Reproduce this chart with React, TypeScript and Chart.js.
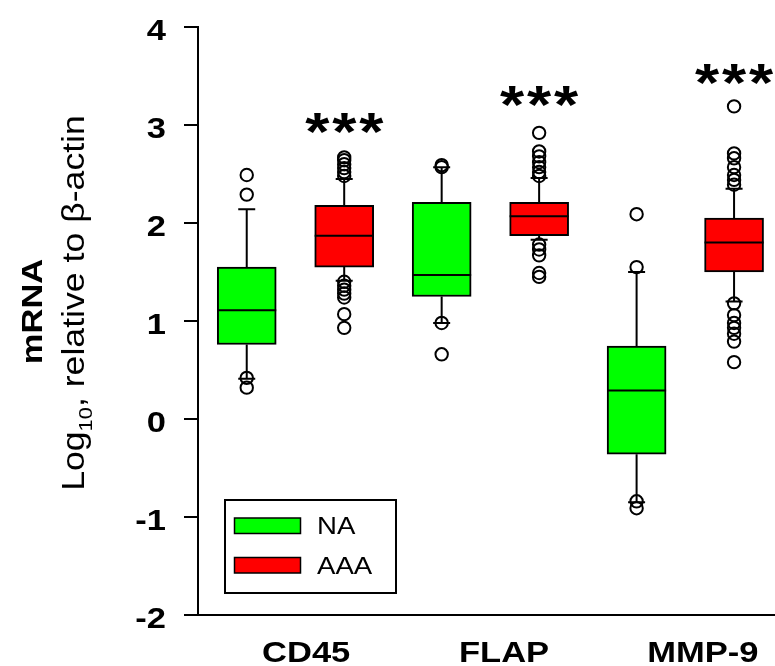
import React, { useEffect, useRef } from "react";
import { Chart, registerables } from "chart.js";

Chart.register(...registerables);

// ---------- data ----------
const categories = ["CD45", "FLAP", "MMP-9"];
const seriesNames = ["NA", "AAA"];
const seriesColors = ["#00FF00", "#FF0000"];

const naWhiskerLow = [0.41, 0.98, -0.85];
const naQ1 = [0.76, 1.25, -0.36];
const naMedian = [1.11, 1.47, 0.29];
const naQ3 = [1.55, 2.21, 0.745];
const naWhiskerHigh = [2.14, 2.57, 1.5];
const naOutliers = [
  [2.49, 2.29, 0.42, 0.32],
  [2.59, 2.57, 0.98, 0.66],
  [2.09, 1.55, -0.84, -0.91],
];

const aaaWhiskerLow = [1.41, 1.83, 1.2];
const aaaQ1 = [1.55, 1.87, 1.5];
const aaaMedian = [1.87, 2.07, 1.8];
const aaaQ3 = [2.18, 2.21, 2.05];
const aaaWhiskerHigh = [2.45, 2.46, 2.35];
const aaaOutliers = [
  [2.67, 2.64, 2.6, 2.56, 2.52, 2.48, 1.4, 1.36, 1.32, 1.28, 1.24, 1.07, 0.93],
  [2.92, 2.73, 2.68, 2.62, 2.57, 2.52, 2.48, 1.78, 1.73, 1.67, 1.49, 1.45],
  [3.19, 2.71, 2.66, 2.57, 2.49, 2.44, 2.39, 1.18, 1.06, 0.98, 0.93, 0.87, 0.79, 0.58],
];

const significance = ["***", "***", "***"];
const significanceLevel = [3.02, 3.29, 3.52];

const yTicks = [-2, -1, 0, 1, 2, 3, 4];
const xLabelPositions = [1.61, 3.64, 5.68];

const yTitleMain = "mRNA";
const yTitleLog = "Log";
const yTitleSub = "10";
const yTitleRest = ", relative to \u03B2-actin";

// ---------- helpers ----------
const FAMILY = '"Liberation Sans", Arial, Helvetica, sans-serif';
const STRETCH = 1.15;

const naPos = (i: number) => 2 * i + 1;
const aaaPos = (i: number) => 2 * i + 2;

function stretchedText(
  ctx: CanvasRenderingContext2D,
  text: string,
  x: number,
  y: number,
  font: string,
  align: CanvasTextAlign,
  rotate = 0
) {
  ctx.save();
  ctx.translate(x, y);
  if (rotate) ctx.rotate(rotate);
  ctx.scale(STRETCH, 1);
  ctx.font = font;
  ctx.textAlign = align;
  ctx.textBaseline = "alphabetic";
  ctx.fillStyle = "#000";
  ctx.fillText(text, 0, 0);
  ctx.restore();
}

const boxPlugin = {
  id: "boxWhiskers",
  afterDatasetsDraw(chart: any) {
    const ctx: CanvasRenderingContext2D = chart.ctx;
    const ys = chart.scales.y;
    const groups = [
      { meta: chart.getDatasetMeta(0), lo: naWhiskerLow, q1: naQ1, med: naMedian, q3: naQ3, hi: naWhiskerHigh },
      { meta: chart.getDatasetMeta(1), lo: aaaWhiskerLow, q1: aaaQ1, med: aaaMedian, q3: aaaQ3, hi: aaaWhiskerHigh },
    ];
    ctx.save();
    ctx.strokeStyle = "#000";
    ctx.lineWidth = 2;
    ctx.lineCap = "butt";
    groups.forEach((g) => {
      g.meta.data.forEach((el: any, i: number) => {
        const x = el.x;
        const half = el.width / 2;
        const cap = 8.5;
        const pHi = ys.getPixelForValue(g.hi[i]);
        const pQ3 = ys.getPixelForValue(g.q3[i]);
        const pQ1 = ys.getPixelForValue(g.q1[i]);
        const pLo = ys.getPixelForValue(g.lo[i]);
        const pMed = ys.getPixelForValue(g.med[i]);
        ctx.beginPath();
        ctx.moveTo(x, pQ3);
        ctx.lineTo(x, pHi);
        ctx.moveTo(x - cap, pHi);
        ctx.lineTo(x + cap, pHi);
        ctx.moveTo(x, pQ1);
        ctx.lineTo(x, pLo);
        ctx.moveTo(x - cap, pLo);
        ctx.lineTo(x + cap, pLo);
        ctx.moveTo(x - half, pMed);
        ctx.lineTo(x + half, pMed);
        ctx.stroke();
      });
    });
    ctx.restore();
  },
};

const textPlugin = {
  id: "textLayer",
  afterDraw(chart: any) {
    const ctx: CanvasRenderingContext2D = chart.ctx;
    const xs = chart.scales.x;
    const ys = chart.scales.y;
    const area = chart.chartArea;

    // y tick labels
    ys.ticks.forEach((t: any) => {
      const py = ys.getPixelForValue(t.value);
      stretchedText(ctx, String(t.value), area.left - 32, py + 12.8, `bold 30px ${FAMILY}`, "right");
    });

    // x category labels
    categories.forEach((c, i) => {
      const px = xs.getPixelForValue(xLabelPositions[i]);
      stretchedText(ctx, c, px, area.bottom + 47, `bold 30px ${FAMILY}`, "center");
    });

    // significance asterisks
    ctx.save();
    ctx.font = `bold 100px ${FAMILY}`;
    const m = ctx.measureText("*");
    const h100 = m.actualBoundingBoxAscent + m.actualBoundingBoxDescent;
    const size = (100 * 20.5) / (h100 || 36);
    ctx.restore();
    significance.forEach((s, i) => {
      const cx = xs.getPixelForValue(aaaPos(i));
      const cy = ys.getPixelForValue(significanceLevel[i]);
      ctx.save();
      ctx.font = `bold ${size}px ${FAMILY}`;
      const mm = ctx.measureText("*");
      const base = cy + (mm.actualBoundingBoxAscent - mm.actualBoundingBoxDescent) / 2;
      ctx.restore();
      const chars = s.split("");
      chars.forEach((ch, k) => {
        const off = (k - (chars.length - 1) / 2) * 27;
        stretchedText(ctx, ch, cx + off, base, `bold ${size}px ${FAMILY}`, "center");
      });
    });

    // y title
    stretchedText(ctx, yTitleMain, 42, 311.5, `bold 30px ${FAMILY}`, "center", -Math.PI / 2);
    ctx.save();
    ctx.translate(84, 303);
    ctx.rotate(-Math.PI / 2);
    ctx.scale(STRETCH, 1);
    ctx.fillStyle = "#000";
    ctx.textBaseline = "alphabetic";
    ctx.textAlign = "left";
    const fMain = `31px ${FAMILY}`;
    const fSub = `19px ${FAMILY}`;
    ctx.font = fMain;
    const w1 = ctx.measureText(yTitleLog).width;
    const w3 = ctx.measureText(yTitleRest).width;
    ctx.font = fSub;
    const w2 = ctx.measureText(yTitleSub).width;
    let x0 = -(w1 + w2 + w3) / 2;
    ctx.font = fMain;
    ctx.fillText(yTitleLog, x0, 0);
    x0 += w1;
    ctx.font = fSub;
    ctx.fillText(yTitleSub, x0, 8);
    x0 += w2;
    ctx.font = fMain;
    ctx.fillText(yTitleRest, x0, 0);
    ctx.restore();

    // legend
    ctx.save();
    ctx.strokeStyle = "#000";
    ctx.lineWidth = 2;
    ctx.strokeRect(225, 500, 171, 93);
    const rows = [525.5, 565];
    seriesNames.forEach((name, k) => {
      const ds = chart.data.datasets[k];
      const cy = rows[k];
      ctx.fillStyle = ds.backgroundColor;
      ctx.fillRect(234.5, cy - 7.5, 66, 15.5);
      ctx.lineWidth = 1.5;
      ctx.strokeRect(234.5, cy - 7.5, 66, 15.5);
      stretchedText(ctx, ds.label, 317, cy + 8.6, `24px ${FAMILY}`, "left");
    });
    ctx.restore();
  },
};

export default function App() {
  const ref = useRef<HTMLCanvasElement>(null);

  useEffect(() => {
    const canvas = ref.current;
    if (!canvas) return;

    const outlierPoints: { x: number; y: number }[] = [];
    categories.forEach((_, i) => {
      naOutliers[i].forEach((v) => outlierPoints.push({ x: naPos(i), y: v }));
      aaaOutliers[i].forEach((v) => outlierPoints.push({ x: aaaPos(i), y: v }));
    });

    const chart = new Chart(canvas, {
      type: "bar",
      data: {
        datasets: [
          {
            type: "bar",
            label: seriesNames[0],
            data: categories.map((_, i) => ({ x: naPos(i), y: [naQ1[i], naQ3[i]] })) as any,
            backgroundColor: seriesColors[0],
            borderColor: "#000",
            borderWidth: 2,
            borderSkipped: false,
            barThickness: 59,
            grouped: false,
          } as any,
          {
            type: "bar",
            label: seriesNames[1],
            data: categories.map((_, i) => ({ x: aaaPos(i), y: [aaaQ1[i], aaaQ3[i]] })) as any,
            backgroundColor: seriesColors[1],
            borderColor: "#000",
            borderWidth: 2,
            borderSkipped: false,
            barThickness: 59,
            grouped: false,
          } as any,
          {
            type: "scatter",
            label: "outliers",
            data: outlierPoints,
            pointRadius: 6.2,
            pointHoverRadius: 6.2,
            borderWidth: 2,
            borderColor: "#000",
            backgroundColor: "rgba(0,0,0,0)",
            showLine: false,
          } as any,
        ],
      },
      options: {
        responsive: false,
        animation: false,
        events: [],
        devicePixelRatio: 1,
        layout: { autoPadding: false, padding: { left: 0, top: 27, right: 0, bottom: 0 } },
        plugins: {
          legend: { display: false },
          tooltip: { enabled: false },
          title: { display: false },
        },
        scales: {
          x: {
            type: "linear",
            offset: false,
            min: 0.5,
            max: 6.42,
            grid: { display: false, offset: false },
            ticks: { display: false },
            border: { display: true, color: "#000", width: 2 },
            afterFit: (s: any) => {
              s.height = 51;
            },
          },
          y: {
            type: "linear",
            min: yTicks[0],
            max: yTicks[yTicks.length - 1],
            afterBuildTicks: (s: any) => {
              s.ticks = yTicks.map((v) => ({ value: v }));
            },
            grid: {
              drawOnChartArea: false,
              drawTicks: true,
              tickLength: 14,
              tickColor: "#000",
              tickWidth: 2,
              color: "#000",
              lineWidth: 2,
            },
            ticks: { display: false },
            border: { display: true, color: "#000", width: 2 },
            afterFit: (s: any) => {
              s.width = 198;
            },
          },
        },
      } as any,
      plugins: [boxPlugin, textPlugin],
    });

    return () => chart.destroy();
  }, []);

  return (
    <div style={{ position: "absolute", left: 0, top: 0, width: 775, height: 666, background: "#fff" }}>
      <canvas ref={ref} width={775} height={666} style={{ display: "block", width: 775, height: 666 }} />
    </div>
  );
}
